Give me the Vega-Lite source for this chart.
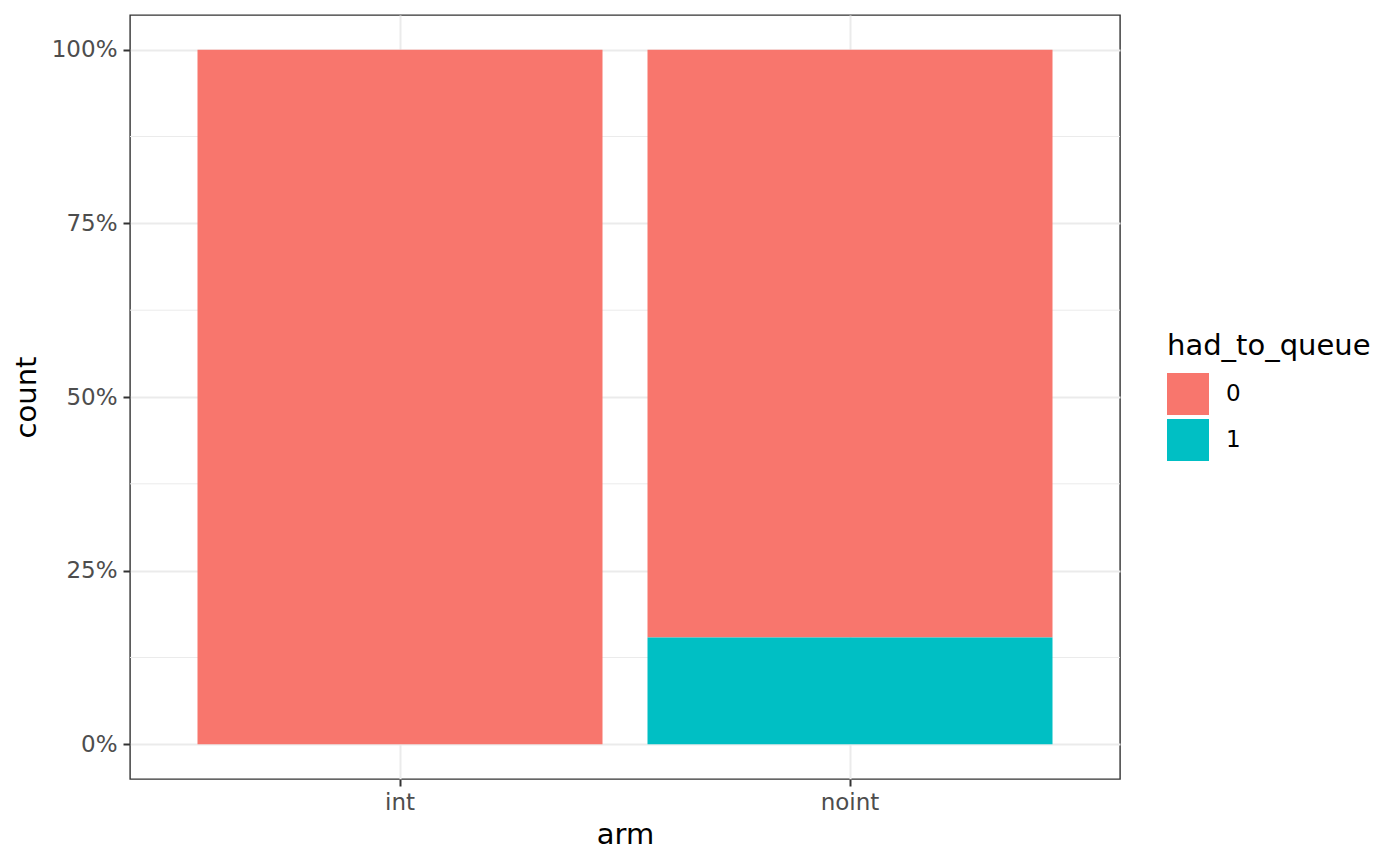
{
  "$schema": "https://vega.github.io/schema/vega-lite/v6.json",
  "width": 990,
  "height": 764,
  "autosize": {"type": "none"},
  "padding": {"left": 130, "top": 15, "right": 280, "bottom": 86},
  "background": "white",
  "config": {
    "font": "DejaVu Sans",
    "view": {"stroke": "#333333", "strokeWidth": 1.4},
    "axis": {
      "domain": false,
      "grid": true,
      "gridColor": "#EBEBEB",
      "gridWidth": 2,
      "ticks": true,
      "tickColor": "#333333",
      "tickWidth": 2,
      "tickSize": 7,
      "labelColor": "#4D4D4D",
      "labelFontSize": 23,
      "labelFont": "DejaVu Sans",
      "titleFont": "DejaVu Sans",
      "titleFontSize": 29,
      "titleFontWeight": "normal",
      "titleColor": "black"
    },
    "legend": {
      "titleFont": "DejaVu Sans",
      "titleFontSize": 29,
      "titleFontWeight": "normal",
      "titleColor": "black",
      "titleLimit": 400,
      "labelFont": "DejaVu Sans",
      "labelFontSize": 23,
      "labelColor": "black"
    }
  },
  "layer": [
    {
      "data": {"values": [{"v": 0.125}, {"v": 0.375}, {"v": 0.625}, {"v": 0.875}]},
      "mark": {"type": "rule", "color": "#EBEBEB", "strokeWidth": 1},
      "encoding": {
        "y": {
          "field": "v",
          "type": "quantitative",
          "scale": {"domain": [-0.05, 1.05], "nice": false, "zero": false},
          "axis": {
            "title": "count",
            "values": [0, 0.25, 0.5, 0.75, 1],
            "format": ".0%",
            "labelPadding": 6,
            "titleX": -95,
            "titleY": 382,
            "titleBaseline": "alphabetic",
            "titleAngle": -90,
            "titleAlign": "center"
          }
        }
      }
    },
    {
      "data": {
        "values": [
          {"arm": "int", "had_to_queue": "0", "n": 13},
          {"arm": "noint", "had_to_queue": "0", "n": 11},
          {"arm": "noint", "had_to_queue": "1", "n": 2}
        ]
      },
      "mark": {"type": "bar"},
      "encoding": {
        "x": {
          "field": "arm",
          "type": "nominal",
          "scale": {"paddingInner": 0.1, "paddingOuter": 0.15},
          "axis": {
            "title": "arm",
            "labelAngle": 0,
            "bandPosition": 0.5,
            "labelPadding": 5,
            "titleY": 64,
            "titleBaseline": "alphabetic"
          }
        },
        "y": {
          "field": "n",
          "type": "quantitative",
          "stack": "normalize",
          "scale": {"domain": [-0.05, 1.05], "nice": false, "zero": false},
          "axis": {
            "title": "count",
            "values": [0, 0.25, 0.5, 0.75, 1],
            "format": ".0%",
            "labelPadding": 6,
            "titleX": -95,
            "titleY": 382,
            "titleBaseline": "alphabetic",
            "titleAngle": -90,
            "titleAlign": "center"
          }
        },
        "color": {
          "field": "had_to_queue",
          "type": "nominal",
          "scale": {"domain": ["0", "1"], "range": ["#F8766D", "#00BFC4"]},
          "legend": {
            "title": "had_to_queue",
            "orient": "none",
            "legendX": 1037,
            "legendY": 317,
            "symbolType": "square",
            "symbolSize": 1764,
            "symbolStrokeWidth": 0,
            "symbolOpacity": 1,
            "rowPadding": 4,
            "labelOffset": 17,
            "titlePadding": 12
          }
        },
        "order": {"field": "had_to_queue", "sort": "descending"}
      }
    }
  ]
}
